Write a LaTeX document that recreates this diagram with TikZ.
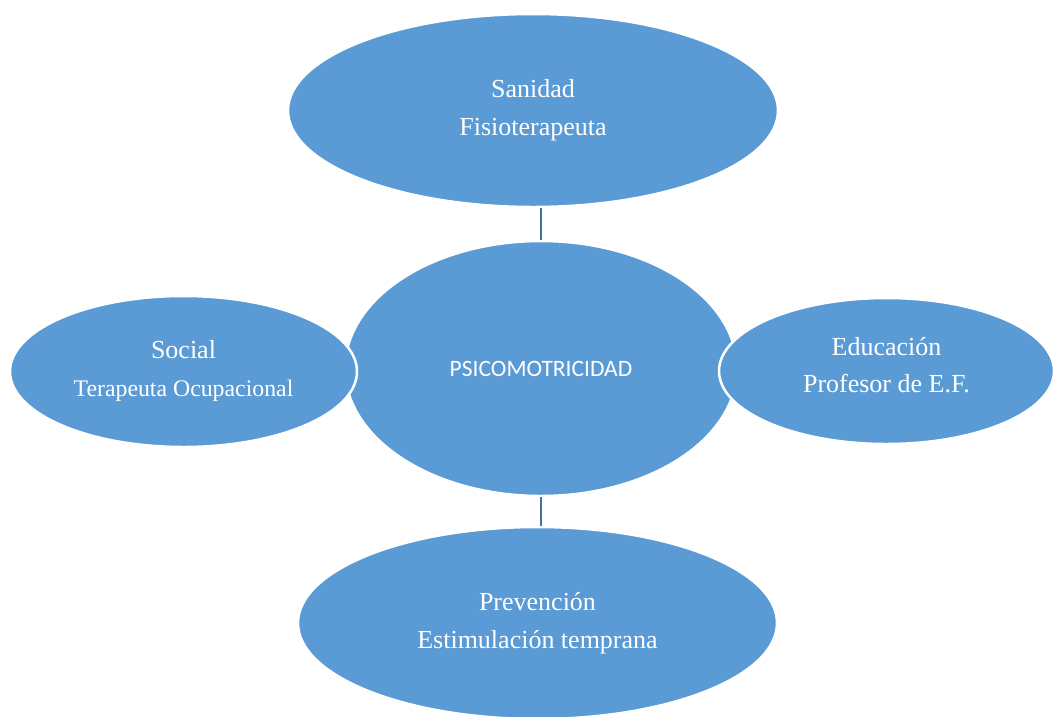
\documentclass[tikz,border=0pt]{standalone}
\usepackage{fontspec}
\setmainfont{Liberation Serif}
\newfontfamily\calibri{Carlito}
\usetikzlibrary{shapes.geometric}
\definecolor{blob}{HTML}{5B9BD5}
\definecolor{wire}{HTML}{41719C}
\tikzset{
  blob/.style={ellipse,fill=blob,draw=white,line width=2.5pt,inner sep=0pt,
    text=white,align=center,font=\fontsize{26}{38}\selectfont},
  wire/.style={draw=wire,line width=2.5pt}
}
\begin{document}
\begin{tikzpicture}[x=1pt,y=-1pt]
\useasboundingbox(0,0)rectangle(1054,716); %page
\clip(0,0)rectangle(1054,716);
%centre
\node[blob,minimum width=392pt,minimum height=255pt,
  font=\calibri\fontsize{23.5}{28}\selectfont] (ctr) at (541,368.5) {PSICOMOTRICIDAD};
%branches
\node[blob,minimum width=490pt,minimum height=193pt] (san) at (533,110.5)
  {Sanidad\\Fisioterapeuta};
\node[blob,minimum width=347pt,minimum height=151pt] (soc) at (183.5,371.5)
  {Social\\\fontsize{23.8}{37}\selectfont Terapeuta Ocupacional};
\node[blob,minimum width=335pt,minimum height=146pt,
  label={[text=white,font=\fontsize{26}{37}\selectfont,align=center,yshift=6pt]center:Educación\\Profesor de E.F.}]
  (edu) at (886.5,371) {};
\node[blob,minimum width=479pt,minimum height=192pt] (pre) at (537.5,623)
  {Prevención\\Estimulación temprana};
%links
\draw[wire](ctr.north |- san.south)--(ctr.north);
\draw[wire](ctr.south)--(ctr.south |- pre.north);
\end{tikzpicture}
\end{document}
